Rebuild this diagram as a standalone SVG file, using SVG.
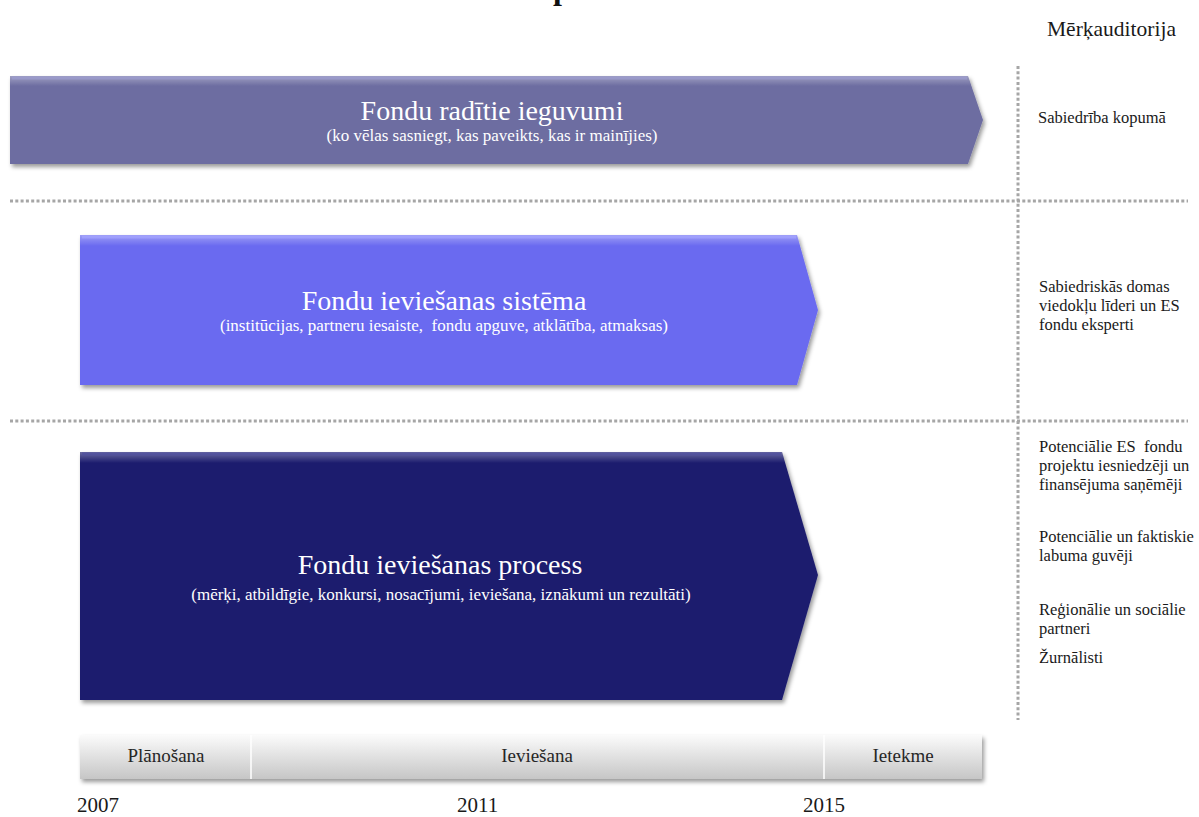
<svg xmlns="http://www.w3.org/2000/svg" width="1199" height="817" viewBox="0 0 1199 817" font-family="'Liberation Serif', 'Times New Roman', serif">
  <defs>
    <filter id="shadow" x="-5%" y="-10%" width="110%" height="130%">
      <feDropShadow dx="2" dy="3" stdDeviation="2" flood-color="#000" flood-opacity="0.4"/>
    </filter>
    <linearGradient id="cellFill" x1="0" y1="0" x2="0" y2="1">
      <stop offset="0" stop-color="#fbfbfb"/>
      <stop offset="1" stop-color="#c6c6c6"/>
    </linearGradient>
    <linearGradient id="bevel" x1="0" y1="0" x2="0" y2="1">
      <stop offset="0" stop-color="#fff" stop-opacity="0.35"/>
      <stop offset="1" stop-color="#fff" stop-opacity="0"/>
    </linearGradient>
  </defs>
  <style>
    text { font-family: "Liberation Serif", "Times New Roman", serif; }
    .title { font-family: "Liberation Serif", serif; font-size: 28px; fill: #ffffff; text-anchor: middle; }
    .sub { font-family: "Liberation Serif", serif; font-size: 17px; fill: #ffffff; text-anchor: middle; white-space: pre; }
    .aud { font-family: "Liberation Serif", serif; font-size: 16.5px; fill: #1a1a1a; white-space: pre; }
    .phase { font-family: "Liberation Serif", serif; font-size: 19px; fill: #262626; text-anchor: middle; }
    .year { font-family: "Liberation Serif", serif; font-size: 21px; fill: #1a1a1a; }
    .dots { stroke: #a6a6a6; stroke-width: 3; stroke-dasharray: 3 2.3; fill: none; }
    .edge { stroke-width: 3; fill: none; }
  </style>

  <rect width="1199" height="817" fill="#ffffff"/>

  <!-- heading (only its lower edge falls inside the page) -->
  <text x="553" y="-1" font-size="32" font-weight="bold" fill="#111">p</text>

  <text x="1047" y="36" font-size="21.5" fill="#1a1a1a">Mērķauditorija</text>

  <!-- dotted separators -->
  <g id="connectors">
    <line class="dots" x1="1018" y1="66" x2="1018" y2="720"/>
    <line class="dots" x1="10" y1="201" x2="1188" y2="201"/>
    <line class="dots" x1="10" y1="421" x2="1188" y2="421"/>
  </g>

  <!-- top band: benefits -->
  <g id="node-ieguvumi">
    <polygon points="10,76 968,76 983,120 968,164 10,164" fill="#6d6da1" filter="url(#shadow)"/>
    <polygon points="10,76 968,76 971,86 10,86" fill="url(#bevel)"/>
    <line class="edge" x1="12" y1="78" x2="967" y2="78" stroke="#9b9bd0" stroke-opacity="0.7"/>
    <text class="title" x="492" y="120">Fondu radītie ieguvumi</text>
    <text class="sub" x="492" y="141">(ko vēlas sasniegt, kas paveikts, kas ir mainījies)</text>
  </g>

  <!-- middle band: system -->
  <g id="node-sistema">
    <polygon points="80,235 797,235 818,310 797,385 80,385" fill="#6a6af0" filter="url(#shadow)"/>
    <polygon points="80,235 797,235 800,246 80,246" fill="url(#bevel)"/>
    <line class="edge" x1="82" y1="237" x2="796" y2="237" stroke="#a4a4ff" stroke-opacity="0.7"/>
    <text class="title" x="444" y="310">Fondu ieviešanas sistēma</text>
    <text class="sub" x="444" y="331">(institūcijas, partneru iesaiste,  fondu apguve, atklātība, atmaksas)</text>
  </g>

  <!-- bottom band: process -->
  <g id="node-process">
    <polygon points="80,452 782,452 818,575 782,700 80,700" fill="#1f1f6e" filter="url(#shadow)"/>
    <polygon points="80,452 782,452 785,463 80,463" fill="url(#bevel)"/>
    <line class="edge" x1="82" y1="454" x2="781" y2="454" stroke="#5050a0" stroke-opacity="0.7"/>
    <text class="title" x="440" y="574">Fondu ieviešanas process</text>
    <text class="sub" x="441" y="600">(mērķi, atbildīgie, konkursi, nosacījumi, ieviešana, iznākumi un rezultāti)</text>
  </g>

  <!-- target audiences -->
  <g id="node-aud-sabiedriba">
    <text class="aud" x="1038" y="123" font-size="17">Sabiedrība kopumā</text>
  </g>
  <g id="node-aud-lideri">
    <text class="aud" x="1039" y="292">Sabiedriskās domas</text>
    <text class="aud" x="1039" y="311">viedokļu līderi un ES</text>
    <text class="aud" x="1039" y="330">fondu eksperti</text>
  </g>
  <g id="node-aud-iesniedzeji">
    <text class="aud" x="1039" y="452">Potenciālie ES  fondu</text>
    <text class="aud" x="1039" y="471">projektu iesniedzēji un</text>
    <text class="aud" x="1039" y="490">finansējuma saņēmēji</text>
  </g>
  <g id="node-aud-guveji">
    <text class="aud" x="1039" y="542">Potenciālie un faktiskie</text>
    <text class="aud" x="1039" y="561">labuma guvēji</text>
  </g>
  <g id="node-aud-partneri">
    <text class="aud" x="1039" y="615">Reģionālie un sociālie</text>
    <text class="aud" x="1039" y="634">partneri</text>
  </g>
  <g id="node-aud-zurnalisti">
    <text class="aud" x="1039" y="663">Žurnālisti</text>
  </g>

  <!-- timeline -->
  <g id="node-timeline">
    <rect x="80" y="735" width="902" height="44" fill="url(#cellFill)" filter="url(#shadow)"/>
    <line x1="251" y1="735" x2="251" y2="779" stroke="#ffffff" stroke-width="1.5"/>
    <line x1="824" y1="735" x2="824" y2="779" stroke="#ffffff" stroke-width="1.5"/>
    <text class="phase" x="166" y="762">Plānošana</text>
    <text class="phase" x="537" y="762">Ieviešana</text>
    <text class="phase" x="903" y="762">Ietekme</text>
  </g>
  <g id="node-years">
    <text class="year" x="77" y="812">2007</text>
    <text class="year" x="457" y="812">2011</text>
    <text class="year" x="803" y="812">2015</text>
  </g>
</svg>
